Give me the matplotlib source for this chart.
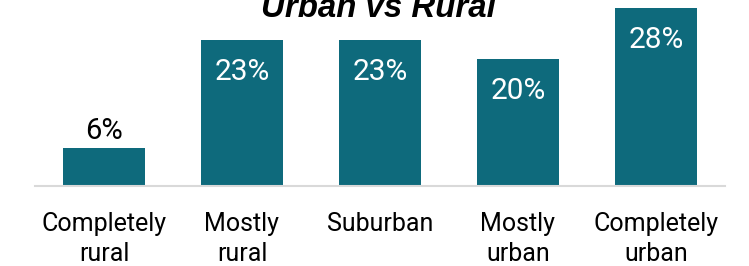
import numpy as np
import matplotlib.pyplot as plt

categories = ["Completely\nrural", "Mostly\nrural", "Suburban", "Mostly\nurban", "Completely\nurban"]
values = [6, 23, 23, 20, 28]
labels = ["6%", "23%", "23%", "20%", "28%"]
bar_color = "#0E6A7C"

fig = plt.figure(figsize=(7.49, 2.66), dpi=100)
ax = fig.add_axes([35/749, 80/266, 690/749, 178/266])

x = np.arange(len(values))
ax.bar(x, values, width=0.59, color=bar_color)

# small bar gets its label on top, the rest inside
for xi, v, lab in zip(x, values, labels):
    if v < 10:
        ax.text(xi, v + 0.5, lab, ha="center", va="bottom", fontsize=21,
                family="Roboto", color="black")
    else:
        ax.text(xi, v - 5.0, lab, ha="center", va="center", fontsize=21.5,
                family="Roboto", color="white")

ax.set_xlim(-0.5, 4.5)
ax.set_ylim(0, 28)
ax.set_xticks(x)
ax.set_xticklabels(categories, fontsize=18, family="Roboto", linespacing=1.3)
ax.tick_params(axis="x", length=0, pad=19)
ax.set_yticks([])
for s in ["top", "right", "left"]:
    ax.spines[s].set_visible(False)
ax.spines["bottom"].set_color("#D9D9D9")
ax.spines["bottom"].set_linewidth(1.5)

fig.text(0.505, 1 - 17/266, "Urban vs Rural", ha="center", va="baseline",
         fontsize=23.8, fontweight="bold", fontstyle="italic", family="Liberation Sans")

fig.savefig("out.png", dpi=100)
